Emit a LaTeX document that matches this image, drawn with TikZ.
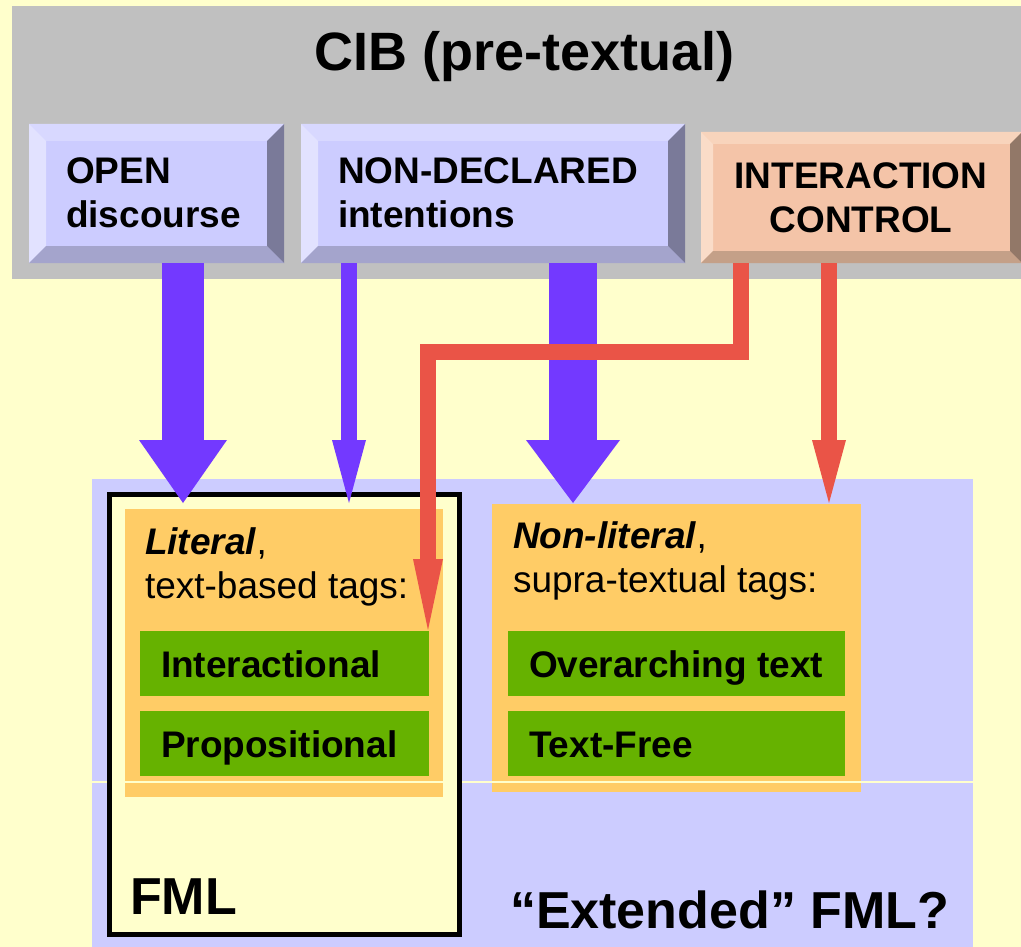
\documentclass[tikz,border=0pt]{standalone}
\usepackage{fontspec}
\setmainfont{Liberation Sans}
\usetikzlibrary{arrows.meta,calc}
\definecolor{cream}{HTML}{FFFFCC}
\definecolor{bandgrey}{HTML}{C0C0C0}
\definecolor{lav}{HTML}{CCCCFF}
\definecolor{lavtop}{HTML}{D8D8FF}
\definecolor{lavleft}{HTML}{E2E2FF}
\definecolor{lavbot}{HTML}{A4A4CC}
\definecolor{lavright}{HTML}{7A7A99}
\definecolor{peach}{HTML}{F4C4A8}
\definecolor{peachtop}{HTML}{F8D4BC}
\definecolor{peachleft}{HTML}{FADCC8}
\definecolor{peachbot}{HTML}{C4A088}
\definecolor{peachright}{HTML}{927868}
\definecolor{tagorange}{HTML}{FFCC66}
\definecolor{taggreen}{HTML}{66B200}
\definecolor{arrpurple}{HTML}{7339FF}
\definecolor{arrred}{HTML}{EA5447}

% #1 node name, #2 bevel size, #3 face, #4 top, #5 left, #6 bottom, #7 right
\newcommand{\bevelplate}[7]{%
  \fill[#3] (#1.north west) rectangle (#1.south east);
  \fill[#4] (#1.north west) -- (#1.north east) -- ($(#1.north east)+(-#2,#2)$) -- ($(#1.north west)+(#2,#2)$) -- cycle;
  \fill[#5] (#1.north west) -- ($(#1.north west)+(#2,#2)$) -- ($(#1.south west)+(#2,-#2)$) -- (#1.south west) -- cycle;
  \fill[#6] (#1.south west) -- ($(#1.south west)+(#2,-#2)$) -- ($(#1.south east)+(-#2,-#2)$) -- (#1.south east) -- cycle;
  \fill[#7] (#1.north east) -- (#1.south east) -- ($(#1.south east)+(-#2,-#2)$) -- ($(#1.north east)+(-#2,#2)$) -- cycle;
}
\newcommand{\tagtext}[2]{\makebox[#1][l]{#2}}

\begin{document}
\begin{tikzpicture}[x=1pt,y=-1pt,
  plate/.style={rectangle, inner sep=0pt, outer sep=0pt, anchor=north west},
  boxlabel/.style={inner sep=0pt, outer sep=0pt, font=\fontsize{37pt}{44pt}\selectfont\bfseries},
  taglabel/.style={inner sep=0pt, outer sep=0pt, align=left, font=\fontsize{37pt}{44pt}\selectfont},
  bigtext/.style={inner sep=0pt, outer sep=0pt, font=\fontsize{52pt}{60pt}\selectfont\bfseries},
  tagbox/.style={rectangle, fill=tagorange, inner sep=0pt, outer sep=0pt, anchor=north west},
  greentag/.style={rectangle, fill=taggreen, anchor=north west, outer sep=0pt,
    inner xsep=21pt, inner ysep=0pt, minimum height=65pt,
    text height=30pt, text depth=3pt, font=\fontsize{37pt}{44pt}\selectfont\bfseries},
  fmlbox/.style={rectangle, draw=black, line width=5pt, fill=cream, inner sep=0pt, outer sep=0pt, anchor=north west},
  thickpurple/.style={draw=arrpurple, line width=#1},
  redline/.style={draw=arrred, line width=16pt, line join=miter},
]
\useasboundingbox (0,0) rectangle (1021,947);
\fill[cream] (0,0) rectangle (1021,947);

% top band
\fill[bandgrey] (12,6) rectangle (1021,279);
\node[bigtext, font=\fontsize{54pt}{60pt}\selectfont\bfseries, anchor=base] (cib) at (525,71) {CIB (pre-textual)};

% bevelled boxes
\node[plate, minimum width=255pt, minimum height=139pt] (open) at (29,124) {};
\node[plate, minimum width=384pt, minimum height=139pt] (nondecl) at (301,124) {};
\node[plate, minimum width=321pt, minimum height=131pt] (ictrl) at (701,132) {};
\bevelplate{open}{17}{lav}{lavtop}{lavleft}{lavbot}{lavright}
\bevelplate{nondecl}{17}{lav}{lavtop}{lavleft}{lavbot}{lavright}
\bevelplate{ictrl}{12}{peach}{peachtop}{peachleft}{peachbot}{peachright}
\node[boxlabel, anchor=base west, align=left] (opentxt) at (66,228) {OPEN\\discourse};
\node[boxlabel, anchor=base west, align=left] (nondecltxt) at (338,228) {NON-DECLARED\\intentions};
\node[boxlabel, anchor=base, align=center] (ictrltxt) at (861,233) {INTERACTION\\CONTROL};

% lower region
\fill[lav] (92,479) rectangle (973,947);
\node[fmlbox, minimum width=350pt, minimum height=440pt] (fml) at (109.5,494.5) {};
\node[tagbox, minimum width=318pt, minimum height=288pt] (lit) at (125,509) {};
\node[tagbox, minimum width=369pt, minimum height=288pt] (nonlit) at (492,504) {};
\node[taglabel, anchor=base west] (littxt) at (145,598) {\textbf{\textit{Literal}},\\text-based tags:};
\node[taglabel, anchor=base west] (nonlittxt) at (513,592) {\textbf{\textit{Non-literal}},\\supra-textual tags:};
\node[greentag] (g1) at (140,631) {\tagtext{247pt}{Interactional}};
\node[greentag] (g2) at (140,711) {\tagtext{247pt}{Propositional}};
\node[greentag] (g3) at (508,631) {\tagtext{295pt}{Overarching text}};
\node[greentag] (g4) at (508,711) {\tagtext{295pt}{Text-Free}};
\draw[cream, line width=1.5pt] (lit.west |- 0,782) ++(-33,0) coordinate (hl1) -- ($(hl1)+(881,0)$) coordinate (hl2);
\draw[black, line width=5pt] (fml.north west) rectangle (fml.south east);
\node[bigtext, anchor=base west] (fmltxt) at (130,914) {FML};
\node[bigtext, anchor=base west] (exttxt) at (510,928) {“Extended” FML?};

% arrows
\coordinate (p1s) at ($(open.south west)+(154,0)$);
\coordinate (p1e) at ($(lit.north west)+(58,-6)$);
\coordinate (p2s) at ($(nondecl.south west)+(48,0)$);
\coordinate (p2e) at ($(lit.north west)+(224,-6)$);
\coordinate (p3s) at ($(nondecl.south west)+(272,0)$);
\coordinate (p3e) at ($(nonlit.north west)+(81,-1)$);
\coordinate (r1s) at ($(ictrl.south west)+(128,0)$);
\coordinate (r1e) at ($(nonlit.north west)+(337,-1)$);
\coordinate (r2s) at ($(ictrl.south west)+(40,0)$);
\coordinate (r2e) at ($(g1.north east)+(-1,-1)$);
\coordinate (r2b) at ($(r2e)+(0,-278.5)$);

\draw[thickpurple=42pt, -{Triangle[length=63pt,width=88pt,line width=0pt]}] (p1s) -- (p1e);
\draw[thickpurple=16pt, -{Triangle[length=63pt,width=34pt,line width=0pt]}] (p2s) -- (p2e);
\draw[thickpurple=48pt, -{Triangle[length=63pt,width=94pt,line width=0pt]}] (p3s) -- (p3e);
\draw[redline, -{Triangle[length=63pt,width=34pt,line width=0pt]}] (r1s) -- (r1e);
\draw[redline, -{Triangle[length=71pt,width=30pt,line width=0pt]}] (r2s) |- (r2b) -- (r2e);
\end{tikzpicture}
\end{document}
